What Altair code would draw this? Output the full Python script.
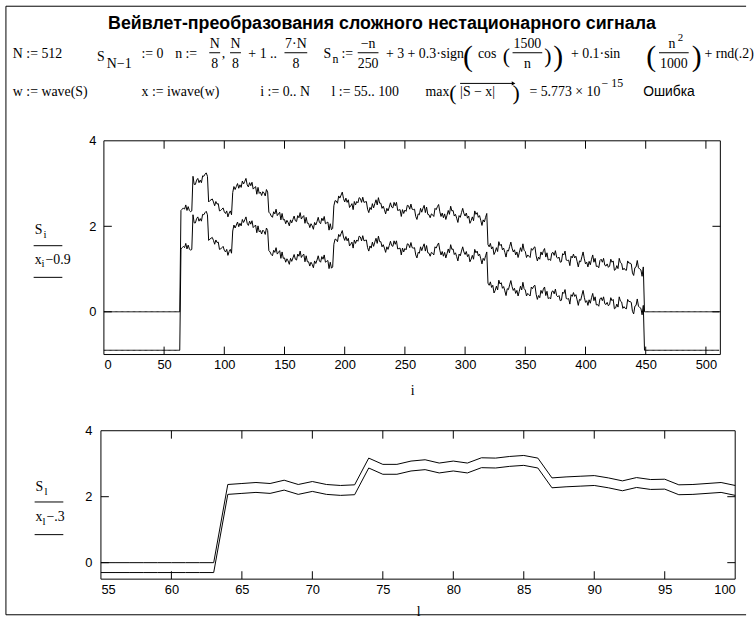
import altair as alt
import pandas as pd

# ---------------- values ----------------
N = 512
FIRST, LAST = 64, 448          # S is non-zero for n = N/8 .. 7N/8

S_064_100 = [2.37, 2.40, 2.43, 2.40, 2.50, 2.37, 2.46, 2.37, 2.34, 2.36,
             3.17, 2.98, 2.98, 3.08, 3.12, 3.02, 3.08, 3.02, 3.18, 3.17,
             3.22, 3.25, 3.17, 2.57, 2.60, 2.62, 2.64, 2.57, 2.48, 2.58,
             2.52, 2.53, 2.36, 2.37, 2.40, 2.43, 2.34]
S_101_136 = [2.30, 2.36, 2.22, 2.31, 2.36, 2.27,
             2.79, 2.93, 2.86, 2.93, 3.00, 2.89, 2.97, 2.91, 3.06, 2.99,
             3.05, 3.12, 2.97, 2.92, 3.02, 2.95, 3.03, 2.87, 2.90, 2.93,
             2.75, 2.91, 2.77, 2.80, 2.72, 2.81, 2.78, 2.71, 2.86, 2.80]
S_137_190 = [2.33, 2.30, 2.24, 2.21, 2.34, 2.29, 2.40, 2.25, 2.29, 2.33,
             2.15, 2.30, 2.15, 2.16, 2.06, 2.14, 2.09, 2.01, 2.15, 2.08,
             2.16, 2.24, 2.13, 2.11, 2.25, 2.20, 2.32, 2.17, 2.22, 2.25,
             2.07, 2.21, 2.07, 2.07, 1.97, 2.06, 2.01, 1.93, 2.09, 2.03,
             2.11, 2.21, 2.09, 2.06, 2.19, 2.13, 2.23, 2.06, 2.08, 2.10,
             1.91, 2.06, 1.92, 1.95]
S_191_318 = [2.48, 2.60, 2.59, 2.54, 2.71, 2.66, 2.73, 2.80, 2.65, 2.57,
             2.66, 2.56, 2.62, 2.44, 2.48, 2.53, 2.39, 2.58, 2.50, 2.58,
             2.55, 2.67, 2.65, 2.56, 2.68, 2.56, 2.57, 2.58, 2.40, 2.32,
             2.44, 2.39, 2.53, 2.43, 2.53, 2.62, 2.50, 2.67, 2.54, 2.54,
             2.42, 2.47, 2.39, 2.29, 2.42, 2.36, 2.45, 2.55, 2.45, 2.43,
             2.56, 2.48, 2.56, 2.37, 2.38, 2.39, 2.23, 2.39, 2.30, 2.38,
             2.35, 2.49, 2.48, 2.40, 2.52, 2.40, 2.39, 2.40, 2.23, 2.16,
             2.29, 2.27, 2.42, 2.33, 2.42, 2.49, 2.32, 2.45, 2.28, 2.27,
             2.20, 2.29, 2.27, 2.23, 2.42, 2.39, 2.46, 2.51, 2.34, 2.23,
             2.31, 2.20, 2.29, 2.16, 2.26, 2.37, 2.28, 2.47, 2.36, 2.37,
             2.24, 2.28, 2.19, 2.09, 2.25, 2.21, 2.32, 2.42, 2.30, 2.24,
             2.31, 2.19, 2.24, 2.07, 2.13, 2.22, 2.13, 2.36, 2.28, 2.32,
             2.21, 2.25, 2.14, 2.02, 2.15, 2.10, 2.21, 2.30]
S_319_448 = [1.57, 1.52, 1.60, 1.47, 1.52, 1.34, 1.40, 1.50, 1.41, 1.64,
             1.55, 1.58, 1.45, 1.49, 1.39, 1.28, 1.44, 1.42, 1.53, 1.63,
             1.49, 1.40, 1.45, 1.33, 1.40, 1.27, 1.38, 1.50, 1.41, 1.59,
             1.44, 1.41, 1.27, 1.33, 1.30, 1.27, 1.48, 1.44, 1.50, 1.52,
             1.31, 1.19, 1.28, 1.23, 1.40, 1.33, 1.43, 1.48, 1.28, 1.38,
             1.21, 1.23, 1.20, 1.37, 1.39, 1.32, 1.43, 1.28, 1.25, 1.28,
             1.16, 1.17, 1.36, 1.33, 1.42, 1.21, 1.20, 1.21, 1.08, 1.30,
             1.26, 1.35, 1.26, 1.30, 1.18, 1.05, 1.19, 1.17, 1.29, 1.40,
             1.24, 1.12, 1.16, 1.05, 1.18, 1.10, 1.23, 1.33, 1.16, 1.25,
             1.06, 1.07, 1.03, 1.20, 1.23, 1.16, 1.25, 1.09, 1.07, 1.12,
             1.04, 1.07, 1.23, 1.16, 1.19, 0.97, 0.99, 1.08, 1.01, 1.25,
             1.15, 1.13, 0.98, 1.02, 0.98, 0.97, 1.19, 1.14, 1.14, 1.12,
             0.91, 0.85, 1.03, 1.05, 1.20, 1.03, 1.00, 0.98, 0.83, 1.05]

S_active = S_064_100 + S_101_136 + S_137_190 + S_191_318 + S_319_448
assert len(S_active) == LAST - FIRST + 1, len(S_active)
S = [0.0] * FIRST + S_active + [0.0] * (N - LAST - 1)
X = list(S)                      # iwave(wave(S)) equals S (max error 5.773e-15)
i_vals = list(range(N))
l_vals = list(range(55, 101))
SHIFT_TOP = 0.9
SHIFT_BOT = 0.3

X_DOM_TOP, Y_DOM_TOP = [0, 512], [-1, 4]
X_DOM_BOT, Y_DOM_BOT = [55, 100], [-0.5, 4]
XT_TOP = list(range(50, 501, 50))
XL_TOP = list(range(0, 501, 50))
XT_BOT = list(range(60, 100, 5))
XL_BOT = list(range(55, 101, 5))
YT = [0, 2]
YL = [0, 2, 4]

# ---------------- helpers ----------------
SERIF = "Liberation Serif"
SANS = "Liberation Sans"
OX, OY = 102, 139          # page position of the first panel origin
ONE = pd.DataFrame({"k": [0]})


def txt(s, px, py, size=14, font=SERIF, align="left", weight="normal"):
    return alt.Chart(ONE).mark_text(
        text=s, align=align, baseline="alphabetic", font=font,
        fontSize=size, fontWeight=weight, color="black"
    ).encode(x=alt.value(px - OX), y=alt.value(py - OY))


def hrule(x1, x2, py, w=1.0):
    return alt.Chart(ONE).mark_rule(color="black", strokeWidth=w).encode(
        x=alt.value(x1 - OX), x2=alt.value(x2 - OX), y=alt.value(py - OY))


def vrule(px, y1, y2, w=1.0):
    return alt.Chart(ONE).mark_rule(color="black", strokeWidth=w).encode(
        x=alt.value(px - OX), y=alt.value(y1 - OY), y2=alt.value(y2 - OY))


B1, NUMB, DENB, BAR = 55, 45, 65, 50
B2 = 94


def frac(num, den, cx, w):
    return [txt(num, cx, NUMB, align="center"),
            hrule(cx - w / 2, cx + w / 2, BAR),
            txt(den, cx, DENB, align="center")]


anchor = alt.Chart(ONE).mark_rect(opacity=0).encode(
    x=alt.value(-OX), x2=alt.value(754 - OX),
    y=alt.value(-OY), y2=alt.value(621 - OY))

notes = [
    vrule(6, 3, 618), hrule(6, 754, 3), hrule(6, 754, 618),
    txt("Вейвлет-преобразования сложного нестационарного сигнала", 386, 26,
        size=18, font=SANS, align="center", weight="bold"),
    txt("N := 512", 13, B1),
    txt("S", 98, B1 + 3), txt("N−1", 108, B1 + 10),
    txt(":= 0", 143, B1),
    txt("n :=", 177, B1),
    *frac("N", "8", 217, 11), txt(",", 224, B1),
    *frac("N", "8", 238, 11), txt("+ 1 ..", 251, B1),
    *frac("7·N", "8", 299, 23),
    txt("S", 327, B1), txt("n", 336, B1 + 5, size=12), txt(":=", 345, B1),
    *frac("−n", "250", 372, 21),
    txt("+ 3 + 0.3·sign", 390, B1),
    txt("(", 468, B1 + 8, size=30), txt("cos", 483, B1),
    txt("(", 508, B1 + 5, size=22),
    *frac("1500", "n", 533, 30),
    txt(")", 550, B1 + 5, size=22), txt(")", 559, B1 + 8, size=30),
    txt("+ 0.1·sin", 577, B1),
    txt("(", 653, B1 + 8, size=30),
    txt("n", 679, NUMB, align="center"), txt("2", 685, NUMB - 7, size=11),
    hrule(666, 696, BAR), txt("1000", 681, DENB, align="center"),
    txt(")", 699, B1 + 8, size=30),
    txt("+ rnd(.2)", 712, B1),
    txt("w := wave(S)", 13, B2),
    txt("x := iwave(w)", 143, B2),
    txt("i := 0.. N", 263, B2),
    txt("l := 55.. 100", 335, B2),
    txt("max", 430, B2), txt("(", 454, B2 + 4, size=22),
    txt("|S − x|", 465, B2), hrule(465, 518, B2 - 13),
    txt(")", 518, B2 + 4, size=22),
    txt("= 5.773 × 10", 535, B2), txt("− 15", 608, B2 - 9, size=12),
    txt("Ошибка", 650, B2, font=SANS),
    # y titles of the two plots
    txt("S", 35, 233), txt("i", 44, 237, size=11), hrule(34, 63, 245),
    txt("x", 35, 263), txt("i", 42, 267, size=11), txt("−0.9", 46, 263),
    hrule(34, 63, 277),
    txt("S", 36, 493), txt("l", 45, 497, size=11), hrule(35, 64, 504),
    txt("x", 36, 523), txt("l", 43, 527, size=11), txt("−.3", 47, 523),
    hrule(35, 64, 537),
]
arrow_head = alt.Chart(ONE).mark_point(
    shape="triangle-right", filled=True, color="black", size=18, opacity=1
).encode(x=alt.value(519 - OX), y=alt.value(B2 - 13 - OY))


def axis_x(values, pad, title, tpad):
    return alt.Axis(values=values, ticks=False, domain=False, grid=False,
                    labelFont=SANS, labelFontSize=13, labelColor="black",
                    labelPadding=pad, title=title, titleFont=SERIF,
                    titleFontSize=14, titleFontWeight="normal",
                    titleColor="black", titlePadding=tpad)


def axis_y(pad):
    return alt.Axis(values=YL, ticks=False, domain=False, grid=False,
                    labelFont=SANS, labelFontSize=13, labelColor="black",
                    labelPadding=pad, title=None)


def panel(df, xdom, ydom, xrange, width, height, xticks, xlabels, ylpad, title, tpad):
    xs = alt.Scale(domain=xdom, range=xrange, nice=False, zero=False)
    ys = alt.Scale(domain=ydom, nice=False, zero=False)
    ax = axis_x(xlabels, 4, title, tpad)
    ay = axis_y(ylpad)
    fr = pd.DataFrame({"a": [xdom[0]], "b": [xdom[1]], "c": [ydom[0]], "d": [ydom[1]]})
    frame = alt.Chart(fr).mark_rect(fillOpacity=0, stroke="black", strokeWidth=1).encode(
        x=alt.X("a:Q", scale=xs, axis=ax), x2="b:Q",
        y=alt.Y("c:Q", scale=ys, axis=ay), y2="d:Q")
    xt = pd.DataFrame({"t": xticks})
    yt = pd.DataFrame({"t": YT})
    tk = alt.Chart(xt).mark_rule(color="black", strokeWidth=1)
    t_top = tk.encode(x=alt.X("t:Q", scale=xs, axis=ax), y=alt.value(0), y2=alt.value(8))
    t_bot = tk.encode(x=alt.X("t:Q", scale=xs, axis=ax), y=alt.value(height - 8), y2=alt.value(height))
    tky = alt.Chart(yt).mark_rule(color="black", strokeWidth=1)
    t_left = tky.encode(y=alt.Y("t:Q", scale=ys, axis=ay),
                        x=alt.value(xrange[0]), x2=alt.value(xrange[0] + 8))
    t_right = tky.encode(y=alt.Y("t:Q", scale=ys, axis=ay),
                         x=alt.value(xrange[1] - 8), x2=alt.value(xrange[1]))
    lines = alt.Chart(df).mark_line(color="black", strokeWidth=1).encode(
        x=alt.X("n:Q", scale=xs, axis=ax),
        y=alt.Y("v:Q", scale=ys, axis=ay),
        detail="curve:N")
    return [frame, t_top, t_bot, t_left, t_right, lines], width, height


top_df = pd.DataFrame({
    "n": i_vals + i_vals,
    "v": S + [x - SHIFT_TOP for x in X],
    "curve": ["S_i"] * N + ["x_i-0.9"] * N,
})
bot_S = [S[l] for l in l_vals]
bot_X = [X[l] - SHIFT_BOT for l in l_vals]
bot_df = pd.DataFrame({
    "n": l_vals + l_vals,
    "v": bot_S + bot_X,
    "curve": ["S_l"] * len(l_vals) + ["x_l-.3"] * len(l_vals),
})

top_layers, w1, h1 = panel(top_df, X_DOM_TOP, Y_DOM_TOP, [3, 626], 626, 216,
                           XT_TOP, XL_TOP, 5, "i", 12)
bot_layers, w2, h2 = panel(bot_df, X_DOM_BOT, Y_DOM_BOT, [0, 641], 641, 150,
                           XT_BOT, XL_BOT, 9, "l", 9)

top = alt.layer(anchor, *notes, arrow_head, *top_layers).properties(width=w1, height=h1)
bottom = alt.layer(*bot_layers).properties(width=w2, height=h2)

chart = alt.vconcat(top, bottom, spacing=77, bounds="flush").properties(
    padding=0, background="white"
).configure_view(strokeWidth=0)

chart.save("out.html", embed_options={"renderer": "svg", "actions": False})
